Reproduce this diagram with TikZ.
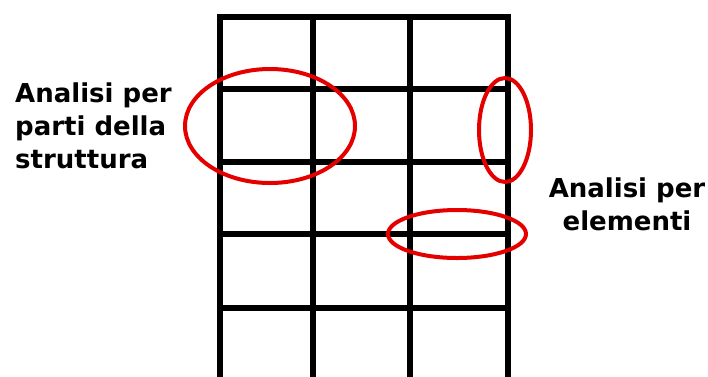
\documentclass[tikz,border=0pt]{standalone}
\usepackage{fontspec}
\setmainfont{DejaVu Sans}
\usetikzlibrary{shapes.geometric}
\begin{document}
\begin{tikzpicture}[x=1pt,y=-1pt,
  gridline/.style={line width=6.5pt,black},
  ring/.style={draw=red!90!black,line width=4pt,ellipse,inner sep=0pt},
  lbl/.style={font=\fontsize{26}{33}\selectfont\bfseries,inner sep=0pt,text=black}]
\useasboundingbox (0,0) rectangle (708,376);
% grid
\coordinate (t1) at (220,17); \coordinate (b1) at (220,380);
\coordinate (t2) at (313,17); \coordinate (b2) at (313,380);
\coordinate (t3) at (410,17); \coordinate (b3) at (410,380);
\coordinate (t4) at (508,17); \coordinate (b4) at (508,380);
\draw[gridline] (t1) -- (b1);
\draw[gridline] (t2) -- (b2);
\draw[gridline] (t3) -- (b3);
\draw[gridline] (t4) -- (b4);
\coordinate (h0l) at (216.75,17); \coordinate (h0r) at (511.25,17);
\coordinate (h1l) at (220,89); \coordinate (h1r) at (508,89);
\coordinate (h2l) at (220,162); \coordinate (h2r) at (508,162);
\coordinate (h3l) at (220,234); \coordinate (h3r) at (508,234);
\coordinate (h4l) at (220,308); \coordinate (h4r) at (508,308);
\draw[gridline] (h0l) -- (h0r);
\draw[gridline] (h1l) -- (h1r);
\draw[gridline] (h2l) -- (h2r);
\draw[gridline] (h3l) -- (h3r);
\draw[gridline] (h4l) -- (h4r);
% ellipses
\node[ring,minimum width=170pt,minimum height=114pt] (e1) at (270,126) {};
\node[ring,minimum width=52pt,minimum height=104pt] (e2) at (505,130) {};
\node[ring,minimum width=138pt,minimum height=48pt] (e3) at (457,234) {};
% labels
\node[lbl,anchor=base west,align=left] (lt) at (15,168) {Analisi per\\parti della\\struttura};
\node[lbl,anchor=base,align=center] (rt) at (627,230) {Analisi per\\elementi};
\end{tikzpicture}
\end{document}
